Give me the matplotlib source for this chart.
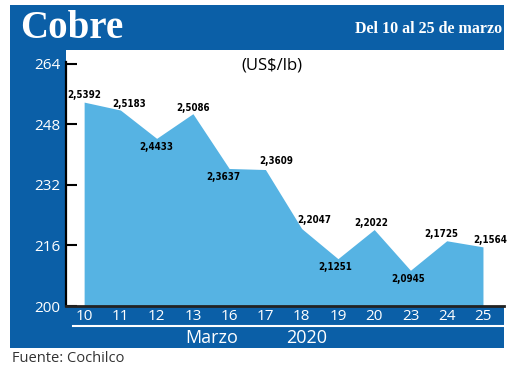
import matplotlib.pyplot as plt
from matplotlib.patches import Rectangle
from matplotlib.lines import Line2D

# data (US$/lb), Cochilco, 10-25 marzo 2020
dias = ['10', '11', '12', '13', '16', '17', '18', '19', '20', '23', '24', '25']
precios = [2.5392, 2.5183, 2.4433, 2.5086, 2.3637, 2.3609,
           2.2047, 2.1251, 2.2022, 2.0945, 2.1725, 2.1564]
yticks = [200, 216, 232, 248, 264]

# label offsets in points (dx, dy)
offs = [(0, 5), (6, 4), (0, -6), (0, 4), (-4, -6), (8, 6),
        (9, 6), (-2, -6), (-2, 5), (-2, -6), (-4, 5), (5, 5)]

dark = '#0b5fa7'
light = '#56b3e3'
W, H = 520, 371

def fx(px):
    return px / W

def fy(py):
    return 1 - py / H

fig = plt.figure(figsize=(5.2, 3.71), dpi=100)
fig.patch.set_facecolor('white')

# blue frame
fig.patches.append(Rectangle((fx(10), fy(348)), fx(504) - fx(10), fy(5) - fy(348),
                             transform=fig.transFigure, facecolor=dark,
                             edgecolor='none', zorder=-1))

fig.text(fx(20), fy(28), 'Cobre', color='white', fontsize=28, fontweight='bold',
         family='Liberation Serif', va='center', ha='left')
fig.text(fx(502), fy(29), 'Del 10 al 25 de marzo', color='white', fontsize=11.5,
         fontweight='bold', family='Liberation Serif', va='center', ha='right')

ax = fig.add_axes([fx(66), fy(306), fx(504) - fx(66), fy(50) - fy(306)])
ax.set_facecolor('white')

x = list(range(len(dias)))
vals = [p * 100 for p in precios]
ax.fill_between(x, vals, 200, color=light, linewidth=0)

for i, p in enumerate(precios):
    ax.annotate(f'{p:.4f}'.replace('.', ','), (x[i], vals[i]), xytext=offs[i],
                textcoords='offset points', ha='center', va='center',
                fontsize=7, fontweight='bold', family='DejaVu Sans',
                fontstretch='condensed', color='black')

ax.set_xlim(-0.5, 11.58)
ax.set_ylim(200, 267.7)
ax.set_yticks(yticks)
ax.set_yticklabels([str(t) for t in yticks], color='white', family='Open Sans', fontsize=11)
ax.tick_params(axis='y', direction='in', length=8, width=1.5, pad=4, colors='black',
               labelcolor='white')
ax.set_xticks(x)
ax.set_xticklabels(dias, color='white', family='Open Sans', fontsize=11)
ax.tick_params(axis='x', length=0, pad=2, labelcolor='white')

for s in ['top', 'right']:
    ax.spines[s].set_visible(False)
ax.spines['left'].set_linewidth(1.6)
ax.spines['left'].set_bounds(200, 264.5)
ax.spines['bottom'].set_linewidth(2)
ax.spines['bottom'].set_color('#222222')

ax.text(0.47, 0.94, '(US$/lb)', transform=ax.transAxes, ha='center', va='center',
        fontsize=12, family='Open Sans', color='black')

# separator and month/year
fig.add_artist(Line2D([fx(73), fx(503)], [fy(326), fy(326)], color='white', linewidth=1.5))
fig.text(fx(212), fy(338), 'Marzo', color='white', fontsize=13, family='Open Sans',
         ha='center', va='center')
fig.text(fx(307), fy(338), '2020', color='white', fontsize=13, family='Open Sans',
         ha='center', va='center')

fig.text(fx(12), fy(359), 'Fuente: Cochilco', color='#333333', fontsize=10.5,
         family='Open Sans', ha='left', va='center')

fig.savefig('out.png', dpi=100)
